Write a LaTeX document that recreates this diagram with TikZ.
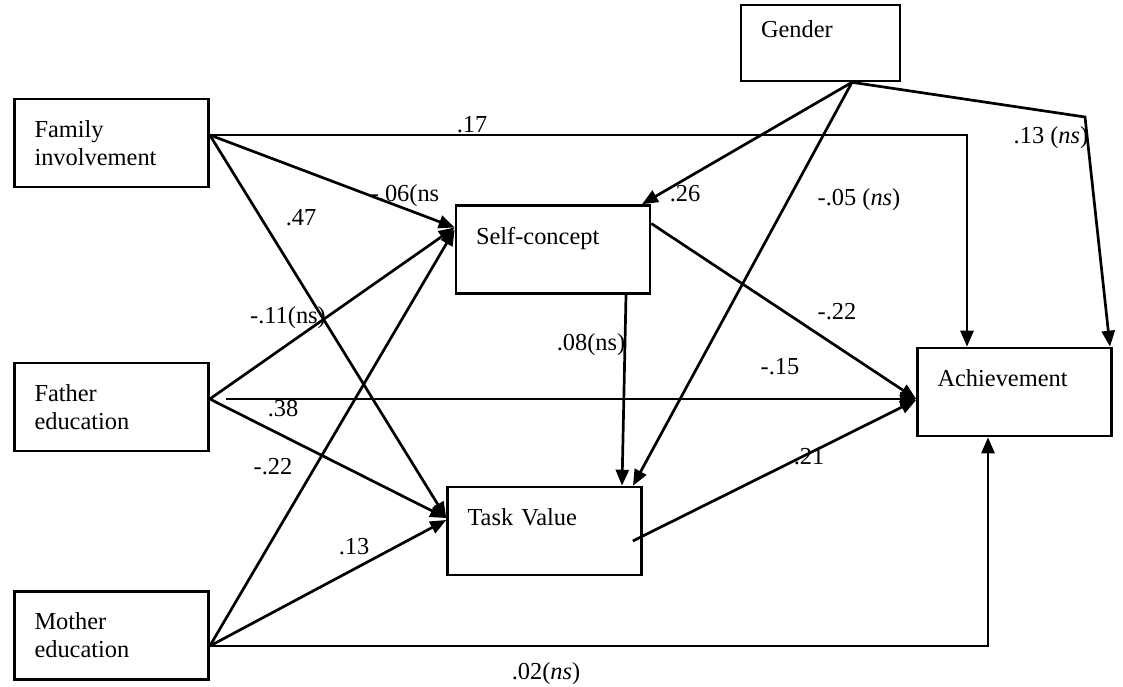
\documentclass[tikz,border=0pt]{standalone}
\usepackage{fontspec}
\setmainfont{Liberation Serif}
\usetikzlibrary{arrows.meta}

\begin{document}
\begin{tikzpicture}[x=0.5pt, y=-0.5pt,
    box/.style={draw, line width=1.3pt, minimum height=44pt, text width=77pt,
      inner xsep=10pt, align=left, font=\fontsize{12.2}{14}\selectfont},
    link/.style={line width=1.35pt, -{Triangle[length=8pt,width=6.5pt]}},
    coef/.style={inner sep=0pt, font=\fontsize{12.2}{14}\selectfont}]
  \useasboundingbox (0,0) rectangle (1123,686);

  \node [box] at (111.5,143) (fam) {Family\\involvement};
  \node [box] at (111.5,407) (fath) {Father\\education};
  \node [box] at (111.5,635.5) (moth) {Mother\\education};
  \node [box, text width=59.5pt, minimum height=38pt] at (820.5,43) (gend) {Gender\\~};
  \node [box] at (553,249.5) (self) {Self-concept\\~};
  \node [box] at (544.5,531) (task) {Task Value\\~};
  \node [box] at (1014.5,392) (ach) {Achievement\\~};
  \coordinate (gbend) at (1085,117);

  % family involvement
  \draw [link] ([yshift=4pt]fam.east) -| ([xshift=-23.75pt]ach.north);
  \draw [link] ([yshift=4pt]fam.east) -- ([yshift=11pt]self.west);
  \draw [link] ([yshift=4pt]fam.east) -- ([yshift=6.5pt]task.west);
  % father education
  \draw [link] ([yshift=4pt]fath.east) -- ([yshift=11pt]self.west);
  \draw [link] ([xshift=8pt,yshift=4pt]fath.east) -- ([yshift=-3.5pt]ach.west);
  \draw [link] ([yshift=4pt]fath.east) -- ([yshift=6.5pt]task.west);
  % mother education
  \draw [link] ([yshift=-5.25pt]moth.east) -- ([yshift=10pt]self.west);
  \draw [link] ([yshift=-5.25pt]moth.east) -- ([yshift=5.5pt]task.west);
  \draw [link] ([yshift=-5.25pt]moth.east) -| ([xshift=-13.25pt]ach.south);
  % mediators
  \draw [link] ([xshift=36.5pt]self.south) -- ([xshift=38.75pt]task.north);
  \draw [link] ([yshift=13pt]self.east) -- ([yshift=-3.5pt]ach.west);
  \draw [link] ([xshift=-5pt,yshift=-5pt]task.east) -- ([yshift=-4pt]ach.west);
  % gender
  \draw [link] ([xshift=15.75pt]gend.south) -- ([xshift=44.5pt]self.north);
  \draw [link] ([xshift=15.75pt]gend.south) -- ([xshift=44.25pt]task.north);
  \draw [link] ([xshift=15.75pt]gend.south) -- (gbend) -- ([xshift=47.75pt]ach.north);

  \node [coef] at (472,125) (c17) {.17};
  \node [coef] at (405,196) (c06) {-.06(ns};
  \node [coef] at (301,218) (c47) {.47};
  \node [coef] at (288,318) (c11) {-.11(ns)};
  \node [coef] at (283,409) (c38) {.38};
  \node [coef] at (273,467) (c22a) {-.22};
  \node [coef] at (354,547) (c13a) {.13};
  \node [coef] at (591,345) (c08) {.08(ns)};
  \node [coef] at (780,367) (c15) {-.15};
  \node [coef] at (809,457) (c21) {.21};
  \node [coef] at (837,312) (c22b) {-.22};
  \node [coef] at (685,194) (c26) {.26};
  \node [coef] at (859,200) (c05) {-.05 (\textit{ns})};
  \node [coef] at (1051,138) (c13b) {.13 (\textit{ns})};
  \node [coef] at (546,674) (c02) {.02(\textit{ns})};
\end{tikzpicture}
\end{document}
